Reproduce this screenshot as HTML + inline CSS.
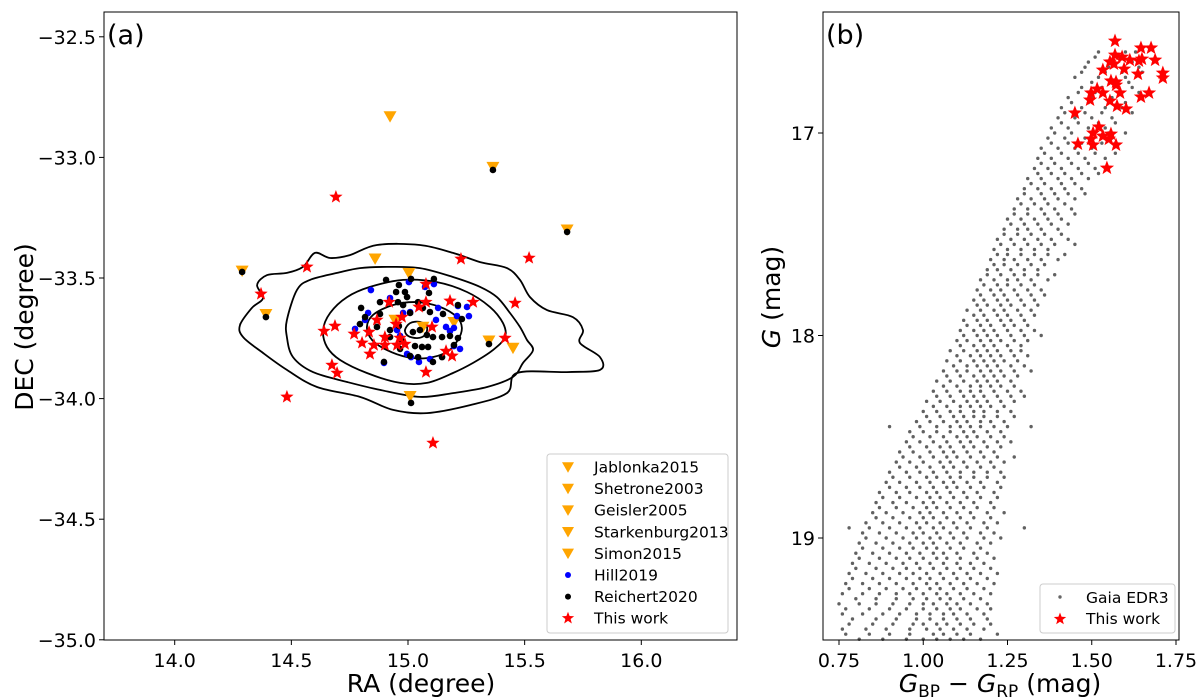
<!DOCTYPE html>
<html><head><meta charset="utf-8"><style>
body{margin:0;background:#fff}
svg{display:block;font-family:"DejaVu Sans","Liberation Sans",sans-serif}
</style></head><body>
<svg id="fig" width="1200" height="699" viewBox="0 0 1200 699" xmlns="http://www.w3.org/2000/svg">
<rect width="1200" height="699" fill="#fff"/>
<g id="pa"></g>
<g id="pb"></g>
</svg>
<script>
// ---------- Panel (a) data (RA, DEC in degrees) ----------
const raTicks=[14.0,14.5,15.0,15.5,16.0];
const raTickLabels=["14.0","14.5","15.0","15.5","16.0"];
const decTicks=[-32.5,-33.0,-33.5,-34.0,-34.5,-35.0];
const decTickLabels=["\u221232.5","\u221233.0","\u221233.5","\u221234.0","\u221234.5","\u221235.0"];
const litRA=[14.289,14.391,14.923,15.364,15.682,14.859,15.004,15.347,15.450,15.009,14.944,15.064,15.197];
const litDEC=[-33.47,-33.65,-32.83,-33.04,-33.30,-33.42,-33.48,-33.76,-33.79,-33.99,-33.674,-33.703,-33.683];
const hillRA=[14.841,15.004,15.111,14.829,14.816,14.773,15.129,15.214,15.253,15.210,15.261,15.120,15.163,15.197,15.180,14.979,15.009,14.953,14.966,14.996,15.013,15.047,15.094,15.223,15.197,14.897,14.923,15.073];
const hillDEC=[-33.550,-33.517,-33.525,-33.645,-33.674,-33.711,-33.624,-33.616,-33.620,-33.658,-33.658,-33.674,-33.703,-33.707,-33.720,-33.645,-33.641,-33.716,-33.740,-33.815,-33.828,-33.848,-33.836,-33.794,-33.782,-33.852,-33.583,-33.537];
const reiRA=[14.906,14.961,15.013,15.111,15.090,14.949,14.987,14.996,14.880,14.957,15.043,14.799,14.816,14.880,14.979,15.009,15.064,15.094,15.150,15.214,15.231,14.794,14.867,14.923,14.961,15.021,15.051,15.081,15.107,15.146,15.180,15.214,14.923,14.974,15.030,15.060,15.086,14.966,15.197,15.009,15.043,15.107,15.146,14.897,14.289,14.391,15.364,15.682,15.347,15.013];
const reiDEC=[-33.508,-33.529,-33.504,-33.504,-33.562,-33.558,-33.558,-33.579,-33.600,-33.600,-33.600,-33.624,-33.662,-33.649,-33.612,-33.645,-33.624,-33.641,-33.649,-33.612,-33.670,-33.691,-33.703,-33.716,-33.699,-33.724,-33.716,-33.736,-33.745,-33.745,-33.740,-33.749,-33.745,-33.761,-33.782,-33.786,-33.786,-33.794,-33.778,-33.823,-33.828,-33.848,-33.828,-33.848,-33.475,-33.662,-33.052,-33.309,-33.774,-34.018];
const twRA=[14.567,15.227,15.519,15.077,14.919,15.180,15.279,15.459,15.047,15.077,14.974,14.867,14.949,15.103,14.687,14.640,14.769,14.833,14.901,14.966,14.803,14.854,14.953,14.987,14.901,14.837,15.163,15.189,15.416,14.674,14.696,15.077,14.691,14.481,15.107,14.370];
const twDEC=[-33.454,-33.421,-33.417,-33.525,-33.600,-33.595,-33.600,-33.604,-33.620,-33.600,-33.662,-33.674,-33.691,-33.703,-33.699,-33.720,-33.732,-33.724,-33.745,-33.749,-33.769,-33.778,-33.778,-33.774,-33.778,-33.815,-33.803,-33.823,-33.749,-33.861,-33.894,-33.890,-33.164,-33.993,-34.184,-33.566];
const contour1RA=[14.280,14.331,14.379,14.353,14.396,14.481,14.550,14.601,14.666,14.751,14.867,15.051,15.193,15.309,15.424,15.480,15.523,15.596,15.707,15.750,15.737,15.823,15.823,15.681,15.467,15.424,15.266,15.081,14.936,14.794,14.610,14.481,14.379,14.293];
const contour1DEC=[-33.695,-33.624,-33.583,-33.529,-33.488,-33.479,-33.454,-33.396,-33.417,-33.405,-33.363,-33.363,-33.396,-33.434,-33.459,-33.508,-33.579,-33.633,-33.662,-33.716,-33.769,-33.828,-33.881,-33.890,-33.894,-33.977,-34.027,-34.060,-34.047,-33.993,-33.952,-33.881,-33.811,-33.745];
const contour2RA=[14.481,14.524,14.580,14.696,14.794,14.910,15.051,15.193,15.309,15.381,15.437,15.480,15.510,15.536,15.493,15.450,15.339,15.193,15.051,14.880,14.739,14.593,14.507,14.481];
const contour2DEC=[-33.674,-33.550,-33.508,-33.479,-33.459,-33.454,-33.459,-33.496,-33.537,-33.579,-33.645,-33.703,-33.757,-33.799,-33.852,-33.910,-33.952,-33.977,-33.993,-33.964,-33.931,-33.890,-33.828,-33.745];
const contour3RA=[14.636,14.666,14.739,14.837,14.979,15.124,15.253,15.351,15.407,15.416,15.364,15.279,15.193,15.081,14.966,14.824,14.709,14.653];
const contour3DEC=[-33.716,-33.645,-33.579,-33.537,-33.508,-33.517,-33.558,-33.620,-33.687,-33.745,-33.799,-33.852,-33.894,-33.935,-33.935,-33.894,-33.840,-33.786];
const contour4RA=[14.824,14.850,14.936,15.039,15.137,15.210,15.231,15.214,15.167,15.081,14.996,14.910,14.846];
const contour4DEC=[-33.703,-33.653,-33.612,-33.600,-33.620,-33.662,-33.707,-33.757,-33.807,-33.832,-33.828,-33.799,-33.757];
const contour5RA=[14.987,15.009,15.051,15.081,15.073,15.039,15.000];
const contour5DEC=[-33.716,-33.687,-33.682,-33.703,-33.736,-33.749,-33.740];

// ---------- Panel (b) data ----------
const bpTicks=[0.75,1.00,1.25,1.50,1.75];
const bpTickLabels=["0.75","1.00","1.25","1.50","1.75"];
const gTicks=[17,18,19];
const gTickLabels=["17","18","19"];
const gaiaRows=[
[16.60,[1.52,1.60,1.63]],[16.65,[1.49,1.56,1.62]],[16.70,[1.47,1.54,1.59,1.65]],[16.75,[1.50,1.56,1.61]],
[16.80,[1.46,1.51,1.58,1.64]],[16.85,[1.44,1.49,1.55,1.60]],[16.90,[1.42,1.48,1.53,1.62]],[16.95,[1.41,1.46,1.52,1.57]],
[17.00,[1.39,1.44,1.50,1.55,1.60]],[17.05,[1.38,1.43,1.47,1.53]],[17.10,[1.36,1.41,1.46,1.51,1.57]],[17.15,[1.35,1.39,1.44,1.49]],
[17.20,[1.34,1.38,1.42,1.47,1.52]],[17.25,[1.32,1.36,1.41,1.45]],[17.30,[1.30,1.35,1.39,1.43,1.48]],[17.35,[1.29,1.33,1.37,1.42]],
[17.40,[1.27,1.31,1.36,1.40,1.45]],[17.45,[1.26,1.30,1.34,1.38,1.43]],[17.50,[1.24,1.28,1.32,1.36,1.41]],[17.55,[1.23,1.27,1.31,1.35,1.39,1.45]],
[17.60,[1.22,1.25,1.29,1.33,1.37,1.42]],[17.65,[1.21,1.24,1.28,1.32,1.36]],[17.70,[1.19,1.23,1.27,1.30,1.34,1.39]],[17.75,[1.18,1.22,1.25,1.29,1.33]],
[17.80,[1.17,1.21,1.24,1.28,1.32,1.36]],[17.85,[1.16,1.19,1.23,1.26,1.30,1.34]],[17.90,[1.15,1.18,1.22,1.25,1.29,1.33]],[17.95,[1.13,1.17,1.20,1.24,1.27,1.31]],
[18.00,[1.12,1.16,1.19,1.22,1.26,1.30,1.35]],[18.05,[1.11,1.15,1.18,1.21,1.25,1.29]],[18.10,[1.10,1.14,1.17,1.20,1.23,1.27,1.31]],[18.15,[1.09,1.13,1.16,1.19,1.22,1.26,1.30]],
[18.20,[1.07,1.11,1.15,1.18,1.21,1.24,1.28]],[18.25,[1.06,1.10,1.14,1.17,1.20,1.23,1.27]],[18.30,[1.04,1.08,1.12,1.15,1.18,1.22,1.26,1.30]],[18.35,[1.03,1.07,1.11,1.14,1.17,1.20,1.24]],
[18.40,[1.01,1.05,1.09,1.12,1.15,1.18,1.22,1.27]],[18.45,[0.90,0.99,1.04,1.08,1.11,1.14,1.17,1.21,1.25,1.32]],[18.50,[0.97,1.02,1.06,1.10,1.13,1.16,1.20,1.24]],[18.55,[0.96,1.01,1.05,1.08,1.12,1.15,1.19,1.23]],
[18.60,[0.94,0.99,1.03,1.07,1.10,1.14,1.18,1.22,1.27]],[18.65,[0.93,0.98,1.02,1.06,1.09,1.13,1.17,1.21]],[18.70,[0.91,0.96,1.01,1.04,1.08,1.11,1.15,1.19,1.24]],[18.75,[0.90,0.95,0.99,1.03,1.07,1.10,1.14,1.18,1.23]],
[18.80,[0.88,0.93,0.98,1.02,1.05,1.09,1.13,1.17,1.22]],[18.85,[0.87,0.92,0.97,1.01,1.04,1.08,1.12,1.16,1.21]],[18.90,[0.86,0.91,0.96,1.00,1.03,1.07,1.11,1.15,1.20]],[18.95,[0.78,0.84,0.90,0.95,0.99,1.03,1.06,1.10,1.14,1.19,1.30]],
[19.00,[0.83,0.89,0.94,0.98,1.02,1.05,1.09,1.13,1.18,1.23]],[19.05,[0.82,0.88,0.93,0.97,1.01,1.04,1.08,1.12,1.17]],[19.10,[0.81,0.87,0.92,0.96,1.00,1.04,1.07,1.11,1.16,1.21]],[19.15,[0.80,0.86,0.91,0.95,0.99,1.03,1.07,1.11,1.15,1.20]],
[19.20,[0.79,0.85,0.90,0.95,0.99,1.02,1.06,1.10,1.14,1.19]],[19.25,[0.78,0.84,0.89,0.94,0.98,1.02,1.05,1.09,1.13,1.18]],[19.30,[0.80,0.86,0.92,0.97,1.01,1.05,1.08,1.12,1.17]],[19.35,[0.77,0.84,0.90,0.95,1.00,1.04,1.08,1.11,1.16,1.20]],
[19.40,[0.79,0.86,0.92,0.98,1.02,1.06,1.10,1.14,1.19]],[19.45,[0.76,0.83,0.89,0.96,1.01,1.05,1.09,1.13,1.18]],[19.50,[0.81,0.88,0.95,1.00,1.04,1.08,1.12,1.17]]
];
const gaiaRows2=[
[16.625,[1.51,1.58]],[16.675,[1.48,1.55,1.64]],[16.725,[1.45,1.52,1.60]],[16.775,[1.47,1.53,1.62]],
[16.825,[1.43,1.50,1.56]],[16.875,[1.41,1.47,1.54,1.59]],[16.925,[1.40,1.45,1.50,1.56]],[16.975,[1.38,1.43,1.49,1.54]],
[17.025,[1.37,1.42,1.48,1.56]],[17.075,[1.35,1.40,1.45,1.50]],[17.125,[1.34,1.38,1.43,1.48,1.54]],[17.175,[1.33,1.37,1.41,1.46,1.51]],
[17.225,[1.31,1.35,1.40,1.44,1.49]],[17.275,[1.30,1.34,1.38,1.42,1.47]],[17.325,[1.28,1.32,1.36,1.40,1.45]],[17.375,[1.27,1.31,1.35,1.39,1.44]],
[17.425,[1.25,1.29,1.33,1.37,1.41]],[17.475,[1.24,1.28,1.31,1.35,1.40]],[17.525,[1.22,1.26,1.30,1.34,1.38,1.43]],[17.575,[1.21,1.25,1.29,1.33,1.37]],
[17.625,[1.20,1.24,1.27,1.31,1.35,1.40]],[17.675,[1.19,1.22,1.26,1.30,1.34]],[17.725,[1.17,1.21,1.25,1.28,1.32,1.37]],[17.775,[1.16,1.20,1.23,1.27,1.31,1.35]],
[17.825,[1.15,1.18,1.22,1.25,1.29,1.33]],[17.875,[1.13,1.17,1.21,1.24,1.28,1.32]],[17.925,[1.12,1.16,1.19,1.23,1.26,1.30]],[17.975,[1.11,1.15,1.18,1.21,1.25,1.29,1.33]],
[18.025,[1.10,1.13,1.17,1.20,1.23,1.27,1.31]],[18.075,[1.08,1.12,1.16,1.19,1.22,1.26,1.29]],[18.125,[1.07,1.11,1.15,1.18,1.21,1.24,1.28]],[18.175,[1.06,1.10,1.13,1.17,1.20,1.23,1.27,1.32]],
[18.225,[1.04,1.08,1.12,1.16,1.19,1.22,1.26]],[18.275,[1.03,1.07,1.11,1.14,1.17,1.21,1.25,1.29]],[18.325,[1.01,1.05,1.09,1.13,1.16,1.19,1.23,1.27]],[18.375,[1.00,1.04,1.08,1.11,1.15,1.18,1.22,1.26]],
[18.425,[0.98,1.02,1.06,1.10,1.13,1.17,1.20,1.24]],[18.475,[0.96,1.00,1.04,1.08,1.12,1.15,1.19,1.23]],[18.525,[0.95,0.99,1.03,1.07,1.11,1.14,1.18,1.22,1.26]],[18.575,[0.93,0.97,1.02,1.06,1.09,1.13,1.17,1.21]],
[18.625,[0.92,0.96,1.00,1.05,1.08,1.12,1.16,1.20,1.24]],[18.675,[0.90,0.95,0.99,1.03,1.07,1.11,1.15,1.19,1.23]],[18.725,[0.89,0.93,0.98,1.02,1.06,1.09,1.13,1.17,1.22]],[18.775,[0.87,0.92,0.96,1.01,1.04,1.08,1.12,1.16,1.21]],
[18.825,[0.86,0.91,0.95,1.00,1.03,1.07,1.11,1.15,1.20]],[18.875,[0.85,0.89,0.94,0.99,1.02,1.06,1.10,1.14,1.19,1.24]],[18.925,[0.83,0.88,0.93,0.98,1.01,1.05,1.09,1.13,1.18,1.22]],[18.975,[0.82,0.87,0.92,0.97,1.00,1.04,1.08,1.12,1.17,1.21]],
[19.025,[0.81,0.86,0.91,0.96,1.00,1.03,1.07,1.11,1.16,1.20]],[19.075,[0.80,0.85,0.90,0.95,0.99,1.03,1.06,1.10,1.15,1.19]],[19.125,[0.79,0.84,0.89,0.94,0.98,1.02,1.06,1.10,1.14,1.18]],[19.175,[0.78,0.83,0.88,0.93,0.97,1.01,1.05,1.09,1.13,1.17,1.22]],
[19.225,[0.77,0.82,0.87,0.92,0.97,1.01,1.04,1.08,1.12,1.16,1.21]],[19.275,[0.76,0.82,0.87,0.92,0.96,1.00,1.04,1.07,1.11,1.15,1.20]],[19.325,[0.75,0.81,0.86,0.91,0.96,1.00,1.03,1.07,1.10,1.14,1.19]],[19.375,[0.76,0.82,0.88,0.93,0.98,1.02,1.06,1.09,1.13,1.18]],
[19.425,[0.78,0.85,0.91,0.97,1.00,1.04,1.07,1.11,1.15,1.20]],[19.475,[0.77,0.84,0.90,0.96,1.03,1.06,1.10,1.14,1.22]]
];
const starBP=[1.569,1.646,1.676,1.569,1.590,1.554,1.566,1.613,1.640,1.649,1.688,1.533,1.596,1.637,1.711,1.711,1.557,1.572,1.572,1.516,1.498,1.533,1.584,1.495,1.554,1.575,1.602,1.646,1.670,1.450,1.521,1.504,1.533,1.557,1.551,1.498,1.504,1.459,1.572,1.545];
const starG=[16.546,16.580,16.580,16.615,16.625,16.649,16.659,16.640,16.644,16.635,16.640,16.689,16.684,16.709,16.704,16.728,16.743,16.748,16.763,16.783,16.802,16.802,16.802,16.837,16.842,16.867,16.881,16.822,16.802,16.901,16.970,17.000,17.015,17.005,17.030,17.030,17.059,17.054,17.059,17.173];

// ---------- helpers ----------
const NS="http://www.w3.org/2000/svg";
function mk(parent,tag,attrs){const e=document.createElementNS(NS,tag);for(const k in attrs)e.setAttribute(k,attrs[k]);parent.appendChild(e);return e;}
function starPath(cx,cy,R){let d="";for(let i=0;i<10;i++){const r=i%2?R*0.42:R;const a=-Math.PI/2+i*Math.PI/5;d+=(i?"L":"M")+(cx+r*Math.cos(a)).toFixed(2)+","+(cy+r*Math.sin(a)).toFixed(2);}return d+"Z";}
function triPath(cx,cy,s){return `M${cx-s},${cy-s*0.8}L${cx+s},${cy-s*0.8}L${cx},${cy+s*0.95}Z`;}
function smoothClosed(pts){const n=pts.length;let d=`M${pts[0][0]},${pts[0][1]}`;for(let i=0;i<n;i++){const p0=pts[(i-1+n)%n],p1=pts[i],p2=pts[(i+1)%n],p3=pts[(i+2)%n];const c1=[p1[0]+(p2[0]-p0[0])/6,p1[1]+(p2[1]-p0[1])/6],c2=[p2[0]-(p3[0]-p1[0])/6,p2[1]-(p3[1]-p1[1])/6];d+=`C${c1[0].toFixed(1)},${c1[1].toFixed(1)} ${c2[0].toFixed(1)},${c2[1].toFixed(1)} ${p2[0].toFixed(1)},${p2[1].toFixed(1)}`;}return d+"Z";}

// ---------- Panel (a) ----------
const pa=document.getElementById('pa');
const A={l:104,r:737,t:12,b:640};
const xa=v=>408+(v-15.0)*233.3;
const ya=v=>278+(-33.5-v)*241.2;
const ca=mk(pa,'g',{});


[[contour1RA,contour1DEC],[contour2RA,contour2DEC],[contour3RA,contour3DEC],[contour4RA,contour4DEC],[contour5RA,contour5DEC]].forEach((c,k)=>{
 const pts=c[0].map((v,i)=>[xa(v),ya(c[1][i])]);
 const p=mk(ca,'path',{d:smoothClosed(pts),fill:'none',stroke:'#000','stroke-width':1.8});
 
 
});
litRA.forEach((v,i)=>{const p=mk(pa,'path',{d:triPath(xa(v),ya(litDEC[i]),6.5),fill:'#ffa500'});
 
 });
hillRA.forEach((v,i)=>{const p=mk(pa,'circle',{cx:xa(v),cy:ya(hillDEC[i]),r:3.3,fill:'#0000ff'});
 
 });
reiRA.forEach((v,i)=>{const p=mk(pa,'circle',{cx:xa(v),cy:ya(reiDEC[i]),r:3.3,fill:'#000'});
 
 });
twRA.forEach((v,i)=>{const p=mk(pa,'path',{d:starPath(xa(v),ya(twDEC[i]),7),fill:'#ff0000'});
 
 });
const fa=mk(pa,'rect',{x:A.l,y:A.t,width:A.r-A.l,height:A.b-A.t,fill:'none',stroke:'#000','stroke-width':1});


raTicks.forEach((v,i)=>{mk(pa,'line',{x1:xa(v),x2:xa(v),y1:A.b,y2:A.b+5,stroke:'#000'});
 const t=mk(pa,'text',{x:xa(v),y:A.b+27,'font-size':19,'text-anchor':'middle'});t.textContent=raTickLabels[i];
 
 });
decTicks.forEach((v,i)=>{mk(pa,'line',{x1:A.l-5,x2:A.l,y1:ya(v),y2:ya(v),stroke:'#000'});
 const t=mk(pa,'text',{x:A.l-8,y:ya(v)+7,'font-size':19,'text-anchor':'end'});t.textContent=decTickLabels[i];
 
 });
let t=mk(pa,'text',{x:421,y:692,'font-size':25,'text-anchor':'middle'});t.textContent='RA (degree)';


t=mk(pa,'text',{x:0,y:0,'font-size':25,'text-anchor':'middle',transform:'translate(33,327) rotate(-90)'});t.textContent='DEC (degree)';


t=mk(pa,'text',{x:107,y:44,'font-size':27});t.textContent='(a)';


// legend a
const la=mk(pa,'g',{});


mk(la,'rect',{x:547,y:454,width:181,height:179,fill:'#fff',stroke:'#ccc','stroke-width':1,rx:3});
const legA=['Jablonka2015','Shetrone2003','Geisler2005','Starkenburg2013','Simon2015','Hill2019','Reichert2020','This work'];
legA.forEach((s,i)=>{const y=467+i*21.6;
 if(i<5) mk(la,'path',{d:triPath(568,y,6),fill:'#ffa500'});
 else if(i==5) mk(la,'circle',{cx:568,cy:y,r:3,fill:'#0000ff'});
 else if(i==6) mk(la,'circle',{cx:568,cy:y,r:3,fill:'#000'});
 else mk(la,'path',{d:starPath(568,y,6.5),fill:'#ff0000'});
 const tt=mk(la,'text',{x:594,y:y+5.5,'font-size':15.5});tt.textContent=s;
 
 
});

// ---------- Panel (b) ----------
const pb=document.getElementById('pb');
const B={l:823,r:1179,t:12,b:640};
const xb=v=>839+(v-0.75)*337;
const yb=v=>133+(v-17)*202.5;
const gg=mk(pb,'g',{});


[gaiaRows,gaiaRows2].forEach(rows=>rows.forEach(row=>row[1].forEach(c=>{const p=mk(gg,'circle',{cx:xb(c),cy:yb(row[0]),r:1.7,fill:'#000','fill-opacity':0.62});
 
 })));
starBP.forEach((v,i)=>{const p=mk(pb,'path',{d:starPath(xb(v),yb(starG[i]),7.5),fill:'#ff0000'});
 
 });
const fb=mk(pb,'rect',{x:B.l,y:B.t,width:B.r-B.l,height:B.b-B.t,fill:'none',stroke:'#000','stroke-width':1});


bpTicks.forEach((v,i)=>{mk(pb,'line',{x1:xb(v),x2:xb(v),y1:B.b,y2:B.b+5,stroke:'#000'});
 const tt=mk(pb,'text',{x:xb(v),y:B.b+27,'font-size':19,'text-anchor':'middle'});tt.textContent=bpTickLabels[i];
 
 });
gTicks.forEach((v,i)=>{mk(pb,'line',{x1:B.l-5,x2:B.l,y1:yb(v),y2:yb(v),stroke:'#000'});
 const tt=mk(pb,'text',{x:B.l-8,y:yb(v)+7,'font-size':19,'text-anchor':'end'});tt.textContent=gTickLabels[i];
 
 });
t=mk(pb,'text',{x:1000,y:692,'font-size':25,'text-anchor':'middle'});
t.innerHTML='<tspan font-style="italic">G</tspan><tspan font-size="17" dy="5">BP</tspan><tspan dy="-5"> \u2212 </tspan><tspan font-style="italic">G</tspan><tspan font-size="17" dy="5">RP</tspan><tspan dy="-5"> (mag)</tspan>';


t=mk(pb,'text',{x:0,y:0,'font-size':25,'text-anchor':'middle',transform:'translate(780,297) rotate(-90)'});
t.innerHTML='<tspan font-style="italic">G</tspan> (mag)';


t=mk(pb,'text',{x:826,y:44,'font-size':27});t.textContent='(b)';


const lb=mk(pb,'g',{});


mk(lb,'rect',{x:1040,y:584,width:135,height:49,fill:'#fff',stroke:'#ccc','stroke-width':1,rx:3});
mk(lb,'circle',{cx:1060,cy:597,r:1.7,fill:'#000','fill-opacity':0.6});
mk(lb,'path',{d:starPath(1060,619,6.5),fill:'#ff0000'});
t=mk(lb,'text',{x:1086,y:603,'font-size':15.5});t.textContent='Gaia EDR3';


t=mk(lb,'text',{x:1086,y:624,'font-size':15.5});t.textContent='This work';


</script>
</body></html>
